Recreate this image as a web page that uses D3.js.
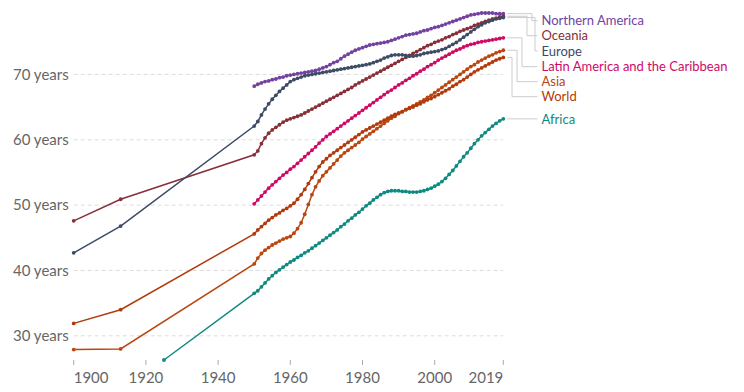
<!DOCTYPE html>
<html>
<head>
<meta charset="utf-8">
<script src="https://cdn.jsdelivr.net/npm/d3@7"></script>
<style>
  html, body { margin: 0; padding: 0; background: #fff; }
  svg { display: block; font-family: Lato, "Open Sans", sans-serif; }
</style>
</head>
<body>
<script>
// life expectancy by world region, 1900 - 2019
const years = [
  1950, 1951, 1952, 1953, 1954, 1955, 1956, 1957, 1958, 1959,
  1960, 1961, 1962, 1963, 1964, 1965, 1966, 1967, 1968, 1969,
  1970, 1971, 1972, 1973, 1974, 1975, 1976, 1977, 1978, 1979,
  1980, 1981, 1982, 1983, 1984, 1985, 1986, 1987, 1988, 1989,
  1990, 1991, 1992, 1993, 1994, 1995, 1996, 1997, 1998, 1999,
  2000, 2001, 2002, 2003, 2004, 2005, 2006, 2007, 2008, 2009,
  2010, 2011, 2012, 2013, 2014, 2015, 2016, 2017, 2018, 2019
];
const earlyYears = [1900, 1913];
const africaEarlyYears = [1925];

const northernAmerica = [
  68.2, 68.5, 68.7, 68.9, 69.0, 69.2, 69.3, 69.5, 69.6, 69.8,
  69.9, 70.0, 70.1, 70.2, 70.3, 70.4, 70.5, 70.6, 70.8, 71.0,
  71.2, 71.5, 71.8, 72.0, 72.4, 72.8, 73.1, 73.4, 73.7, 73.9,
  74.1, 74.3, 74.5, 74.6, 74.7, 74.8, 74.9, 75.0, 75.2, 75.4,
  75.6, 75.8, 76.0, 76.1, 76.2, 76.3, 76.5, 76.7, 76.8, 77.0,
  77.2, 77.3, 77.5, 77.7, 77.9, 78.1, 78.3, 78.5, 78.7, 78.9,
  79.1, 79.2, 79.3, 79.4, 79.4, 79.4, 79.4, 79.3, 79.3, 79.3
];
const oceaniaEarly = [47.6, 50.9];
const oceania = [
  57.7, 58.3, 59.4, 60.3, 61.0, 61.5, 61.9, 62.3, 62.7, 63.0,
  63.2, 63.4, 63.6, 63.8, 64.1, 64.4, 64.7, 65.0, 65.3, 65.6,
  65.9, 66.2, 66.5, 66.8, 67.1, 67.4, 67.7, 68.0, 68.4, 68.7,
  69.0, 69.3, 69.6, 69.9, 70.2, 70.5, 70.8, 71.1, 71.4, 71.7,
  72.0, 72.3, 72.6, 72.9, 73.2, 73.5, 73.8, 74.1, 74.4, 74.6,
  74.9, 75.1, 75.3, 75.6, 75.8, 76.1, 76.3, 76.6, 76.8, 77.0,
  77.2, 77.5, 77.7, 77.9, 78.1, 78.3, 78.5, 78.6, 78.8, 78.9
];
const europeEarly = [42.7, 46.8];
const europe = [
  62.1, 62.8, 63.8, 64.7, 65.5, 66.2, 66.8, 67.4, 67.9, 68.4,
  68.9, 69.2, 69.4, 69.6, 69.8, 69.9, 70.0, 70.1, 70.2, 70.3,
  70.4, 70.5, 70.6, 70.7, 70.8, 70.9, 71.0, 71.1, 71.2, 71.3,
  71.4, 71.5, 71.6, 71.8, 72.0, 72.2, 72.5, 72.7, 72.9, 73.0,
  73.0, 73.0, 72.9, 72.8, 72.8, 72.9, 73.0, 73.2, 73.3, 73.4,
  73.5, 73.6, 73.8, 74.0, 74.3, 74.6, 74.9, 75.3, 75.7, 76.1,
  76.5, 76.9, 77.3, 77.6, 77.9, 78.1, 78.3, 78.5, 78.6, 78.7
];
const latinAmerica = [
  50.2, 50.8, 51.4, 52.0, 52.6, 53.1, 53.6, 54.1, 54.6, 55.0,
  55.5, 55.9, 56.4, 56.9, 57.4, 57.9, 58.4, 58.9, 59.5, 60.0,
  60.5, 60.9, 61.3, 61.7, 62.1, 62.5, 62.9, 63.3, 63.7, 64.1,
  64.5, 64.9, 65.3, 65.7, 66.1, 66.5, 66.9, 67.3, 67.6, 68.0,
  68.4, 68.7, 69.1, 69.4, 69.8, 70.1, 70.5, 70.8, 71.2, 71.5,
  71.8, 72.2, 72.5, 72.8, 73.1, 73.4, 73.7, 73.9, 74.2, 74.4,
  74.6, 74.7, 74.9, 75.0, 75.1, 75.2, 75.3, 75.4, 75.5, 75.6
];
const asiaEarly = [27.9, 28.0];
const asia = [
  41.0, 41.9, 42.6, 43.1, 43.5, 43.9, 44.2, 44.5, 44.8, 45.0,
  45.2, 45.7, 46.4, 47.3, 48.6, 50.1, 51.6, 52.8, 53.7, 54.5,
  55.1, 55.7, 56.3, 56.9, 57.5, 58.0, 58.4, 58.8, 59.2, 59.6,
  60.1, 60.5, 60.9, 61.3, 61.7, 62.1, 62.5, 62.9, 63.3, 63.6,
  64.0, 64.3, 64.6, 64.9, 65.2, 65.5, 65.8, 66.1, 66.5, 66.8,
  67.2, 67.6, 68.0, 68.4, 68.8, 69.2, 69.6, 70.0, 70.4, 70.8,
  71.2, 71.5, 71.9, 72.2, 72.5, 72.8, 73.0, 73.3, 73.5, 73.7
];
const worldEarly = [31.9, 34.0];
const world = [
  45.6, 46.2, 46.7, 47.2, 47.7, 48.1, 48.5, 48.8, 49.2, 49.5,
  49.9, 50.3, 50.9, 51.6, 52.4, 53.3, 54.2, 55.1, 55.9, 56.6,
  57.1, 57.6, 58.0, 58.4, 58.8, 59.2, 59.6, 60.0, 60.4, 60.8,
  61.2, 61.5, 61.8, 62.1, 62.4, 62.7, 63.0, 63.3, 63.6, 63.9,
  64.1, 64.3, 64.6, 64.8, 65.0, 65.3, 65.5, 65.8, 66.1, 66.3,
  66.6, 66.9, 67.2, 67.5, 67.8, 68.2, 68.5, 68.9, 69.2, 69.6,
  70.0, 70.4, 70.7, 71.0, 71.3, 71.6, 71.9, 72.2, 72.4, 72.6
];
const africaEarly = [26.3];
const africa = [
  36.5, 36.9, 37.5, 38.1, 38.7, 39.2, 39.7, 40.1, 40.5, 40.9,
  41.3, 41.6, 42.0, 42.3, 42.7, 43.0, 43.4, 43.8, 44.2, 44.6,
  45.0, 45.4, 45.8, 46.2, 46.7, 47.1, 47.6, 48.0, 48.5, 48.9,
  49.4, 49.9, 50.3, 50.8, 51.2, 51.6, 51.9, 52.1, 52.2, 52.2,
  52.2, 52.1, 52.1, 52.0, 52.0, 52.0, 52.1, 52.2, 52.4, 52.6,
  52.9, 53.2, 53.6, 54.1, 54.7, 55.3, 56.0, 56.7, 57.4, 58.0,
  58.7, 59.4, 60.0, 60.6, 61.1, 61.6, 62.1, 62.5, 62.9, 63.2
];

const xTicks = [1900, 1920, 1940, 1960, 1980, 2000, 2019];
const yTicks = [30, 40, 50, 60, 70];

function pairs(xs, ys) {
  return xs.map((x, i) => ({ year: x, value: ys[i] }));
}

const series = [
  { name: 'Northern America', color: '#7341A0', points: pairs(years, northernAmerica) },
  { name: 'Oceania', color: '#883039', points: pairs(earlyYears, oceaniaEarly).concat(pairs(years, oceania)) },
  { name: 'Europe', color: '#3D4B66', points: pairs(earlyYears, europeEarly).concat(pairs(years, europe)) },
  { name: 'Latin America and the Caribbean', color: '#CF0A66', points: pairs(years, latinAmerica) },
  { name: 'Asia', color: '#BA4610', points: pairs(earlyYears, asiaEarly).concat(pairs(years, asia)) },
  { name: 'World', color: '#B13A0C', points: pairs(earlyYears, worldEarly).concat(pairs(years, world)) },
  { name: 'Africa', color: '#108A80', points: pairs(africaEarlyYears, africaEarly).concat(pairs(years, africa)) }
];

// label layout (y of each label, x where its connector bends)
const labelY = [20.7, 35.7, 51, 66.7, 81.7, 96.7, 119.3];
const bendX = [532, 527, 535, 522, 517, 512, null];

function drawChart() {
  const width = 744;
  const height = 392;
  const left = 73.7, right = 503.3, top = 13, bottom = 360;

  const svg = d3.select('body')
    .append('svg')
    .attr('width', width)
    .attr('height', height);

  const allValues = series.flatMap(s => s.points.map(p => p.value));

  const x = d3.scaleLinear()
    .domain([xTicks[0], xTicks[xTicks.length - 1]])
    .range([left, right]);

  const y = d3.scaleLinear()
    .domain(d3.extent(allValues))
    .range([bottom, top]);

  // grid + y labels
  const grid = svg.append('g');
  grid.selectAll('line')
    .data(yTicks)
    .enter()
    .append('line')
    .attr('x1', left)
    .attr('x2', right)
    .attr('y1', d => y(d))
    .attr('y2', d => y(d))
    .style('stroke', '#ddd')
    .style('stroke-width', 1)
    .style('stroke-dasharray', '4,3');

  grid.selectAll('text')
    .data(yTicks)
    .enter()
    .append('text')
    .attr('x', left - 5)
    .attr('y', d => y(d))
    .attr('dy', '0.35em')
    .attr('text-anchor', 'end')
    .style('font-size', '15px')
    .style('fill', '#666')
    .text(d => d + ' years');

  // x axis
  const xAxis = svg.append('g');
  xAxis.selectAll('line')
    .data(xTicks)
    .enter()
    .append('line')
    .attr('x1', d => x(d))
    .attr('x2', d => x(d))
    .attr('y1', bottom)
    .attr('y2', bottom + 5)
    .style('stroke', '#aaa')
    .style('stroke-width', 1);

  xAxis.selectAll('text')
    .data(xTicks)
    .enter()
    .append('text')
    .attr('x', d => x(d))
    .attr('y', 383)
    .attr('text-anchor', (d, i) => i === 0 ? 'start' : (i === xTicks.length - 1 ? 'end' : 'middle'))
    .style('font-size', '15px')
    .style('fill', '#666')
    .text(d => d);

  const line = d3.line()
    .x(d => x(d.year))
    .y(d => y(d.value));

  const groups = svg.selectAll('g.series')
    .data(series)
    .enter()
    .append('g')
    .attr('class', 'series');

  groups.append('path')
    .attr('d', d => line(d.points))
    .style('fill', 'none')
    .style('stroke', d => d.color)
    .style('stroke-width', 1.5);

  groups.selectAll('circle')
    .data(d => d.points.map(p => ({ p: p, color: d.color })))
    .enter()
    .append('circle')
    .attr('cx', d => x(d.p.year))
    .attr('cy', d => y(d.p.value))
    .attr('r', 1.9)
    .style('fill', d => d.color);

  // labels with connectors
  const lineEnd = right + 4, labelLineEnd = 537.5, labelX = 541.5;
  series.forEach((s, i) => {
    const last = s.points[s.points.length - 1];
    const ey = y(last.value);
    const ly = labelY[i];
    let pts;
    if (bendX[i] === null) {
      pts = [[lineEnd, ey], [labelLineEnd, ey]];
    } else {
      pts = [[lineEnd, ey], [bendX[i], ey], [bendX[i], ly], [labelLineEnd, ly]];
    }
    svg.append('path')
      .attr('d', d3.line()(pts))
      .style('fill', 'none')
      .style('stroke', '#ccc')
      .style('stroke-width', 1);

    svg.append('text')
      .attr('x', labelX)
      .attr('y', ly)
      .attr('dy', '0.35em')
      .style('font-size', '13px')
      .style('fill', s.color)
      .text(s.name);
  });
}

window.onload = drawChart;
</script>
</body>
</html>
